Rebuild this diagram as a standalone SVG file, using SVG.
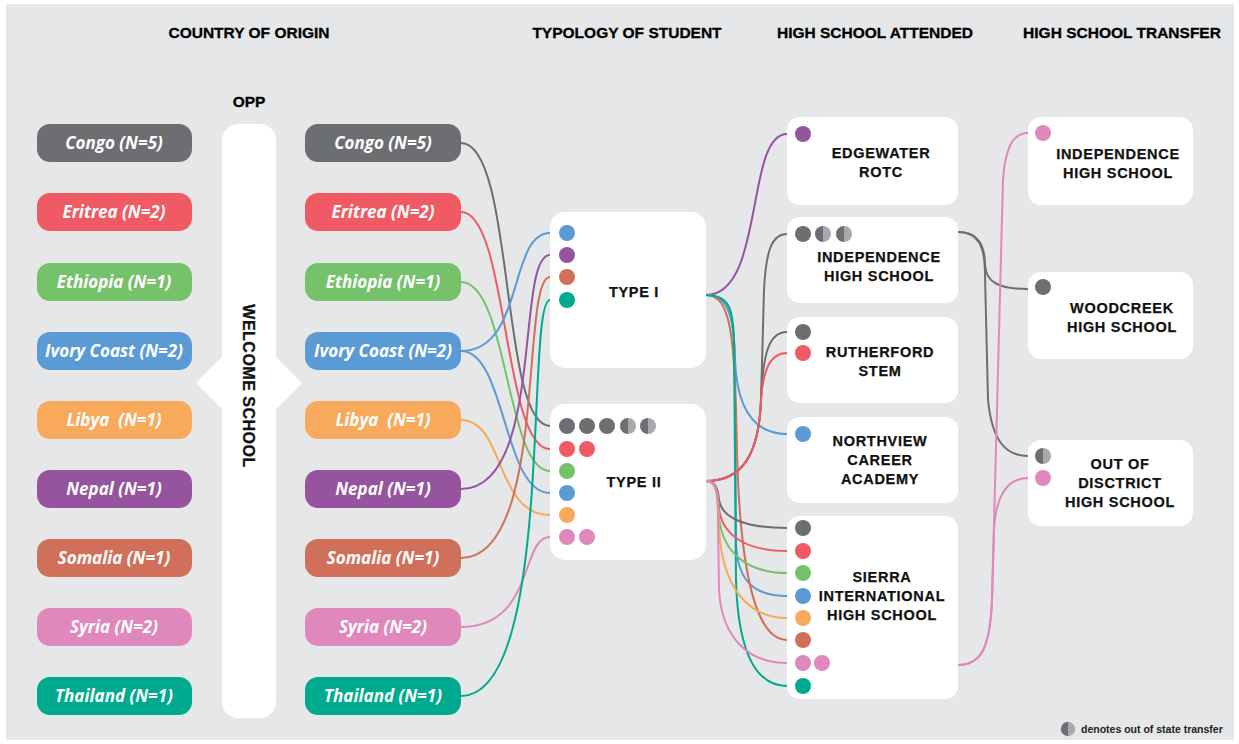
<svg xmlns="http://www.w3.org/2000/svg" width="1239" height="744" viewBox="0 0 1239 744">
<style>
.hdr{font-family:"Liberation Sans",Arial,sans-serif;font-weight:bold;font-size:15.5px;fill:#000;text-anchor:middle;stroke:#000;stroke-width:0.3px}
.pill text{font-family:"Open Sans","Liberation Sans",sans-serif;font-weight:bold;font-style:italic;font-size:17px;fill:#fff;text-anchor:middle}
.box{fill:#fff}
.lbl{font-family:"Liberation Sans",Arial,sans-serif;font-weight:bold;font-size:14.5px;fill:#111;text-anchor:middle;letter-spacing:0.7px;stroke:#111;stroke-width:0.25px}
.conn path{fill:none;stroke-width:2;stroke-linecap:round}
.g{fill:#6d6e71}.lg{fill:#a7a9ac}.r{fill:#ef5a64}.gr{fill:#76c26a}.b{fill:#5a9bd5}.o{fill:#f8a95b}.p{fill:#96549f}.br{fill:#d0705a}.pk{fill:#e088bb}.t{fill:#00aa8e}
.sg{stroke:#6d6e71}.sr{stroke:#ef5a64}.sgr{stroke:#76c26a}.sb{stroke:#5a9bd5}.so{stroke:#f8a95b}.sp{stroke:#96549f}.sbr{stroke:#d0705a}.spk{stroke:#e088bb}.st{stroke:#00aa8e}
</style>
<defs>
<g id="half"><path d="M0,-8 A8,8 0 0,0 0,8 Z" fill="#6d6e71"/><path d="M0,-8 A8,8 0 0,1 0,8 Z" fill="#a7a9ac"/></g>
</defs>
<rect x="0" y="0" width="1239" height="744" fill="#ffffff"/>
<rect x="6" y="4" width="1228" height="736" fill="#e6e7e8"/>

<g id="headers">
<text class="hdr" x="249" y="38">COUNTRY OF ORIGIN</text>
<text class="hdr" x="627" y="38">TYPOLOGY OF STUDENT</text>
<text class="hdr" x="875" y="38">HIGH SCHOOL ATTENDED</text>
<text class="hdr" x="1122" y="38">HIGH SCHOOL TRANSFER</text>
<text class="hdr" x="249" y="107">OPP</text>
</g>

<g id="connectors" class="conn">
<!-- left: country to typology -->
<path class="sg" d="M461,143 C515,143 500,426 550,426"/>
<path class="sr" d="M461,212 C508,212 503,449 550,449"/>
<path class="sgr" d="M461,282 C508,282 506,471 550,471"/>
<path class="sb" d="M461,351 C525,351 508,233 550,233"/>
<path class="sb" d="M461,351 C506,351 503,493 550,493"/>
<path class="so" d="M461,420 C505,420 495,515 550,515"/>
<path class="sp" d="M461,489 C545,489 515,255 550,255"/>
<path class="sbr" d="M461,558 C548,558 520,277 550,277"/>
<path class="spk" d="M461,627 C535,627 520,537 550,537"/>
<path class="st" d="M461,696 C555,696 525,300 550,300"/>
<!-- Type I to high schools -->
<path class="sp" d="M706,295 C765,295 745,134 787,134"/>
<path class="sb" d="M706,295 C730,295 734,320 735,360 C737,410 755,434 787,434"/>
<path class="sb" d="M706,295 C730,295 734,320 735,360 L736,545 C738,582 755,596 787,596"/>
<path class="sbr" d="M706,295 C732,295 735,340 737,450 C740,580 758,640 787,640"/>
<path class="st" d="M706,295 C730,295 733,310 734,340 L736,580 C738,650 755,686 787,686"/>
<!-- Type II to high schools -->
<path class="sg" d="M706,481 C742,481 759,455 761,400 L764,290 C766,250 772,234 787,234"/>
<path class="sg" d="M706,481 C742,481 759,455 761,400 C763,350 770,332 787,332"/>
<path class="sr" d="M706,481 C742,481 759,455 761,400 C763,370 770,353 787,353"/>
<path class="sg" d="M706,481 C716,481 718,490 719,500 C722,520 750,528 787,528"/>
<path class="sr" d="M706,481 C716,481 718,490 719,508 C722,538 750,551 787,551"/>
<path class="sgr" d="M706,481 C716,481 718,490 719,516 C722,555 750,573 787,573"/>
<path class="so" d="M706,481 C716,481 718,490 719,528 C722,590 750,618 787,618"/>
<path class="spk" d="M706,481 C716,481 718,490 718,520 L719,590 C722,640 750,663 787,663"/>
<!-- transfers -->
<path class="sg" d="M958,232 C978,232 985,245 985,265 C986,283 1000,289 1028,289"/>
<path class="sg" d="M958,232 C978,232 985,245 985,275 L988,400 C992,440 1005,456 1028,456"/>
<path class="spk" d="M958,665 C980,665 990,650 992,600 L1003,180 C1005,150 1012,133 1028,133"/>
<path class="spk" d="M958,665 C980,665 990,650 992,600 L994,530 C996,495 1008,478 1028,478"/>
</g>

<g id="origin-left" class="pill">
<g id="l-congo"><rect class="g" x="37" y="124" width="155" height="38" rx="13"/><text x="114" y="149">Congo (N=5)</text></g>
<g id="l-eritrea"><rect class="r" x="37" y="193" width="155" height="38" rx="13"/><text x="114" y="218">Eritrea (N=2)</text></g>
<g id="l-ethiopia"><rect class="gr" x="37" y="263" width="155" height="38" rx="13"/><text x="114" y="288">Ethiopia (N=1)</text></g>
<g id="l-ivory"><rect class="b" x="37" y="332" width="155" height="38" rx="13"/><text x="114" y="357">Ivory Coast (N=2)</text></g>
<g id="l-libya"><rect class="o" x="37" y="401" width="155" height="38" rx="13"/><text x="114" y="426" xml:space="preserve">Libya  (N=1)</text></g>
<g id="l-nepal"><rect class="p" x="37" y="470" width="155" height="38" rx="13"/><text x="114" y="495">Nepal (N=1)</text></g>
<g id="l-somalia"><rect class="br" x="37" y="539" width="155" height="38" rx="13"/><text x="114" y="564">Somalia (N=1)</text></g>
<g id="l-syria"><rect class="pk" x="37" y="608" width="155" height="38" rx="13"/><text x="114" y="633">Syria (N=2)</text></g>
<g id="l-thailand"><rect class="t" x="37" y="677" width="155" height="38" rx="13"/><text x="114" y="702">Thailand (N=1)</text></g>
</g>

<g id="welcome-school">
<rect x="222" y="124" width="54" height="594" rx="16" fill="#fff"/>
<polygon points="222,357 196,383 222,409" fill="#fff"/>
<polygon points="276,357 302,383 276,409" fill="#fff"/>
<text transform="translate(249,386) rotate(90)" x="0" y="5.7" font-family="Liberation Sans, Arial, sans-serif" font-weight="bold" font-size="16" fill="#111" stroke="#111" stroke-width="0.3" text-anchor="middle" letter-spacing="0.5">WELCOME SCHOOL</text>
</g>

<g id="origin-right" class="pill">
<g id="r-congo"><rect class="g" x="305" y="124" width="156" height="38" rx="13"/><text x="383" y="149">Congo (N=5)</text></g>
<g id="r-eritrea"><rect class="r" x="305" y="193" width="156" height="38" rx="13"/><text x="383" y="218">Eritrea (N=2)</text></g>
<g id="r-ethiopia"><rect class="gr" x="305" y="263" width="156" height="38" rx="13"/><text x="383" y="288">Ethiopia (N=1)</text></g>
<g id="r-ivory"><rect class="b" x="305" y="332" width="156" height="38" rx="13"/><text x="383" y="357">Ivory Coast (N=2)</text></g>
<g id="r-libya"><rect class="o" x="305" y="401" width="156" height="38" rx="13"/><text x="383" y="426" xml:space="preserve">Libya  (N=1)</text></g>
<g id="r-nepal"><rect class="p" x="305" y="470" width="156" height="38" rx="13"/><text x="383" y="495">Nepal (N=1)</text></g>
<g id="r-somalia"><rect class="br" x="305" y="539" width="156" height="38" rx="13"/><text x="383" y="564">Somalia (N=1)</text></g>
<g id="r-syria"><rect class="pk" x="305" y="608" width="156" height="38" rx="13"/><text x="383" y="633">Syria (N=2)</text></g>
<g id="r-thailand"><rect class="t" x="305" y="677" width="156" height="38" rx="13"/><text x="383" y="702">Thailand (N=1)</text></g>
</g>

<g id="type-1">
<rect class="box" x="550" y="212" width="156" height="156" rx="15"/>
<circle class="b" cx="567" cy="233" r="8"/>
<circle class="p" cx="567" cy="255" r="8"/>
<circle class="br" cx="567" cy="277" r="8"/>
<circle class="t" cx="567" cy="300" r="8"/>
<text class="lbl" x="634" y="297" font-size="15">TYPE I</text>
</g>

<g id="type-2">
<rect class="box" x="550" y="404" width="156" height="156" rx="15"/>
<circle class="g" cx="567" cy="426" r="8"/>
<circle class="g" cx="587" cy="426" r="8"/>
<circle class="g" cx="607" cy="426" r="8"/>
<use href="#half" x="628" y="426"/>
<use href="#half" x="648" y="426"/>
<circle class="r" cx="567" cy="449" r="8"/>
<circle class="r" cx="587" cy="449" r="8"/>
<circle class="gr" cx="567" cy="471" r="8"/>
<circle class="b" cx="567" cy="493" r="8"/>
<circle class="o" cx="567" cy="515" r="8"/>
<circle class="pk" cx="567" cy="537" r="8"/>
<circle class="pk" cx="587" cy="537" r="8"/>
<text class="lbl" x="634" y="487" font-size="15">TYPE II</text>
</g>

<g id="hs-edgewater">
<rect class="box" x="787" y="117" width="171" height="88" rx="13"/>
<circle class="p" cx="803" cy="134" r="8"/>
<text class="lbl" x="881" y="158">EDGEWATER</text>
<text class="lbl" x="881" y="177">ROTC</text>
</g>

<g id="hs-independence">
<rect class="box" x="787" y="217" width="171" height="86" rx="13"/>
<circle class="g" cx="803" cy="234" r="8"/>
<use href="#half" x="823" y="234"/>
<use href="#half" x="844" y="234"/>
<text class="lbl" x="879" y="262">INDEPENDENCE</text>
<text class="lbl" x="879" y="281">HIGH SCHOOL</text>
</g>

<g id="hs-rutherford">
<rect class="box" x="787" y="317" width="171" height="86" rx="13"/>
<circle class="g" cx="803" cy="332" r="8"/>
<circle class="r" cx="803" cy="353" r="8"/>
<text class="lbl" x="880" y="357">RUTHERFORD</text>
<text class="lbl" x="880" y="376">STEM</text>
</g>

<g id="hs-northview">
<rect class="box" x="787" y="417" width="171" height="86" rx="13"/>
<circle class="b" cx="803" cy="434" r="8"/>
<text class="lbl" x="880" y="446">NORTHVIEW</text>
<text class="lbl" x="880" y="465">CAREER</text>
<text class="lbl" x="880" y="484">ACADEMY</text>
</g>

<g id="hs-sierra">
<rect class="box" x="787" y="516" width="171" height="183" rx="13"/>
<circle class="g" cx="803" cy="528" r="8"/>
<circle class="r" cx="803" cy="551" r="8"/>
<circle class="gr" cx="803" cy="573" r="8"/>
<circle class="b" cx="803" cy="596" r="8"/>
<circle class="o" cx="803" cy="618" r="8"/>
<circle class="br" cx="803" cy="640" r="8"/>
<circle class="pk" cx="803" cy="663" r="8"/>
<circle class="pk" cx="822" cy="663" r="8"/>
<circle class="t" cx="803" cy="686" r="8"/>
<text class="lbl" x="882" y="582">SIERRA</text>
<text class="lbl" x="882" y="601">INTERNATIONAL</text>
<text class="lbl" x="882" y="620">HIGH SCHOOL</text>
</g>

<g id="tr-independence">
<rect class="box" x="1028" y="117" width="165" height="88" rx="13"/>
<circle class="pk" cx="1043" cy="133" r="8"/>
<text class="lbl" x="1118" y="159">INDEPENDENCE</text>
<text class="lbl" x="1118" y="178">HIGH SCHOOL</text>
</g>

<g id="tr-woodcreek">
<rect class="box" x="1028" y="272" width="165" height="87" rx="13"/>
<circle class="g" cx="1043" cy="287" r="8"/>
<text class="lbl" x="1122" y="313">WOODCREEK</text>
<text class="lbl" x="1122" y="332">HIGH SCHOOL</text>
</g>

<g id="tr-outofdistrict">
<rect class="box" x="1028" y="440" width="165" height="86" rx="13"/>
<use href="#half" x="1043" y="456"/>
<circle class="pk" cx="1043" cy="478" r="8"/>
<text class="lbl" x="1120" y="469">OUT OF</text>
<text class="lbl" x="1120" y="488">DISCTRICT</text>
<text class="lbl" x="1120" y="507">HIGH SCHOOL</text>
</g>

<g id="legend">
<use href="#half" x="1068" y="729" transform="translate(1068,729) scale(0.9) translate(-1068,-729)"/>
<text x="1081" y="733" font-family="Liberation Sans, Arial, sans-serif" font-weight="bold" font-size="10.5" fill="#222">denotes out of state transfer</text>
</g>
</svg>
